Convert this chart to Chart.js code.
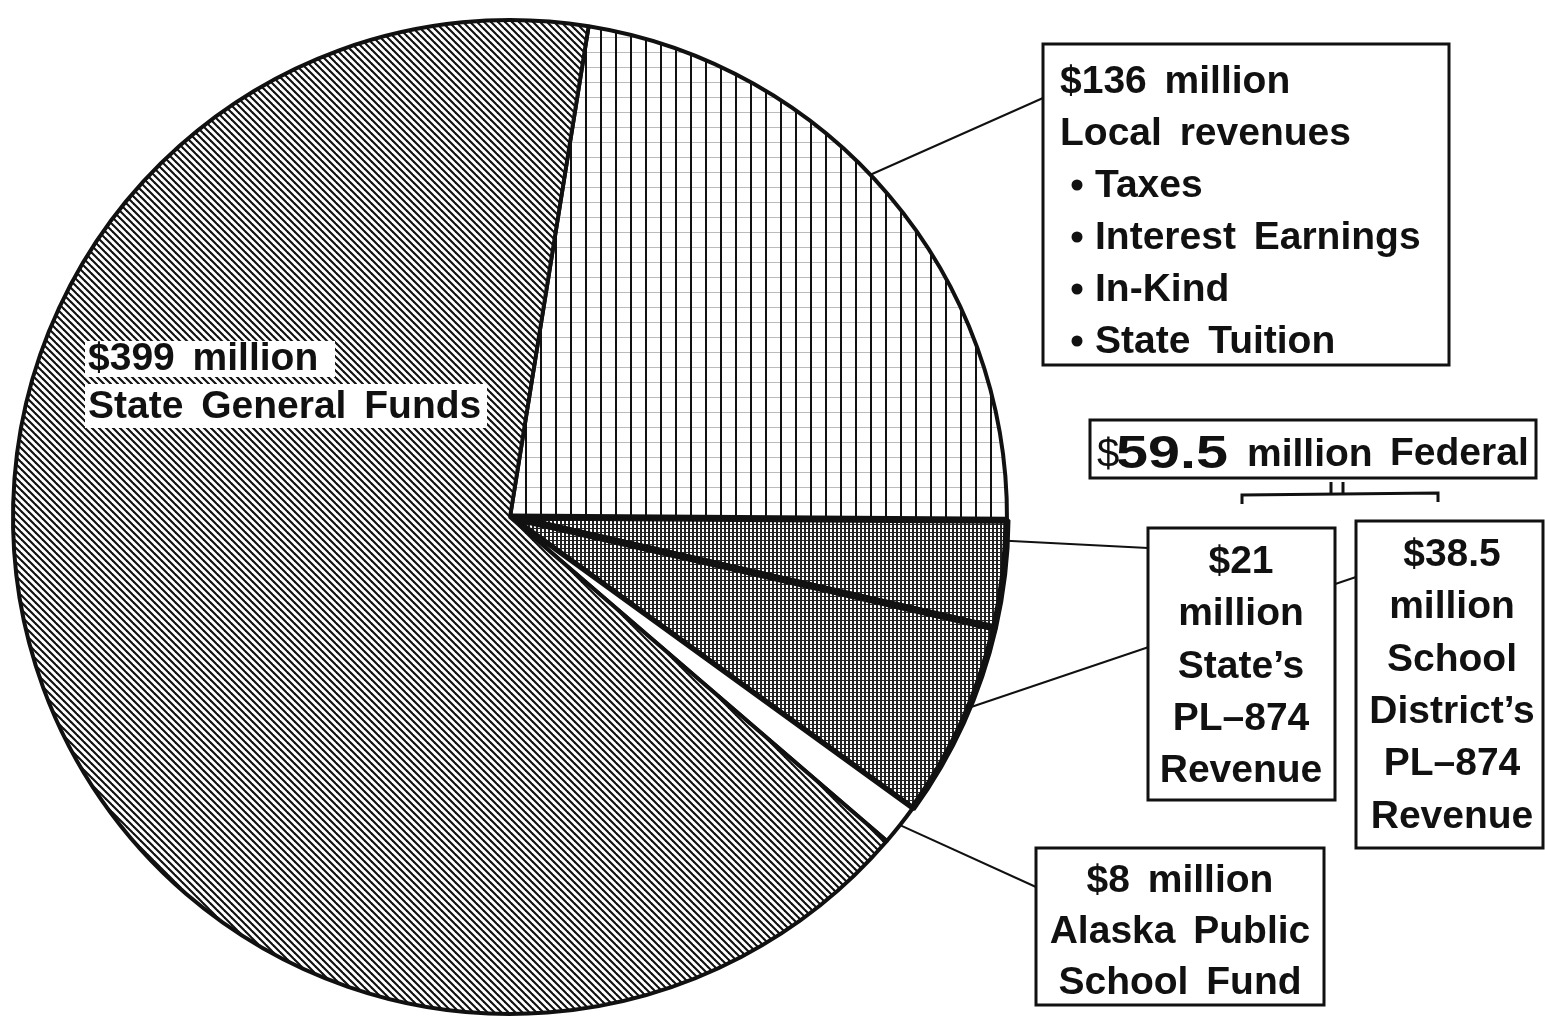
<!DOCTYPE html>
<html lang="en">
<head>
<meta charset="UTF-8">
<title>School revenue sources</title>
<script src="https://cdn.jsdelivr.net/npm/chart.js@4.4.0/dist/chart.umd.min.js"></script>
<style>
  html, body { margin: 0; padding: 0; background: #fff; }
  #wrap { position: relative; width: 1545px; height: 1026px; }
</style>
</head>
<body>
<div id="wrap"><canvas id="chart" width="1545" height="1026"></canvas></div>

<script>
// revenue sources, millions of dollars, clockwise from the top
const sources = ['Local revenues', "State's PL-874 Revenue", "School District's PL-874 Revenue", 'Alaska Public School Fund', 'State General Funds'];
const millions = [136, 21, 38.5, 8, 399];
const federalTotal = 59.5;

const generalLines = ['$399 million', 'State General Funds'];
const localLines = ['$136 million', 'Local revenues'];
const localItems = ['Taxes', 'Interest Earnings', 'In-Kind', 'State Tuition'];
const stateLines = ['$21', 'million', "State’s", 'PL–874', 'Revenue'];
const districtLines = ['$38.5', 'million', 'School', "District’s", 'PL–874', 'Revenue'];
const fundLines = ['$8 million', 'Alaska Public', 'School Fund'];

const INK = '#111';
const FONT = '"Liberation Sans", Arial, sans-serif';

function makePattern(size, draw) {
  const c = document.createElement('canvas');
  c.width = size; c.height = size;
  const g = c.getContext('2d');
  g.fillStyle = '#fff';
  g.fillRect(0, 0, size, size);
  draw(g, size);
  return g.createPattern(c, 'repeat');
}

// "\\\\" hatching for the general funds
const diagonal = makePattern(7, (g, s) => {
  g.strokeStyle = INK; g.lineWidth = 2.1;
  for (let k = -1; k <= 1; k++) {
    g.beginPath(); g.moveTo(-s, -s + k * s); g.lineTo(2 * s, 2 * s + k * s); g.stroke();
  }
});
// vertical rules with faint cross rules for local revenues
const ruled = makePattern(15, (g, s) => {
  g.fillStyle = '#bbb'; g.fillRect(0, 7, s, 1);
  g.fillStyle = INK; g.fillRect(0, 0, 2, s);
});
// dense screen for the federal part
const screen = makePattern(4, (g, s) => {
  g.fillStyle = '#222'; g.fillRect(0, 0, 2, s); g.fillRect(0, 0, s, 1);
});

function setFont(ctx, size, weight) {
  ctx.font = `${weight || 'bold'} ${size}px ${FONT}`;
}

function box(ctx, x, y, w, h) {
  ctx.fillStyle = '#fff';
  ctx.fillRect(x, y, w, h);
  ctx.lineWidth = 3;
  ctx.strokeStyle = INK;
  ctx.strokeRect(x, y, w, h);
}

function line(ctx, pts, width) {
  ctx.beginPath();
  ctx.moveTo(pts[0][0], pts[0][1]);
  for (let i = 1; i < pts.length; i++) ctx.lineTo(pts[i][0], pts[i][1]);
  ctx.lineWidth = width || 2;
  ctx.strokeStyle = INK;
  ctx.stroke();
}

function centredLines(ctx, lines, cx, y0, step) {
  ctx.textAlign = 'center';
  lines.forEach((t, i) => ctx.fillText(t, cx, y0 + i * step));
}

const annotations = {
  id: 'annotations',
  afterDatasetsDraw(chart) {
    const ctx = chart.ctx;
    const arcs = chart.getDatasetMeta(0).data;
    const edge = (i, f) => {
      const a = arcs[i];
      const t = a.startAngle + (a.endAngle - a.startAngle) * f;
      return [a.x + Math.cos(t) * a.outerRadius, a.y + Math.sin(t) * a.outerRadius];
    };

    ctx.save();
    ctx.textBaseline = 'alphabetic';
    ctx.wordSpacing = '7px';
    setFont(ctx, 39);

    // general funds label sits on white strips over the hatching
    ctx.fillStyle = '#fff';
    ctx.fillRect(85, 341, 250, 36);
    ctx.fillRect(85, 384, 402, 44);
    ctx.fillStyle = INK;
    ctx.textAlign = 'left';
    ctx.fillText(generalLines[0], 88, 370);
    ctx.fillText(generalLines[1], 88, 418);

    // leader lines
    line(ctx, [edge(0, 0.46), [1043, 98]]);
    line(ctx, [edge(1, 0.19), [1148, 548]]);
    line(ctx, [edge(2, 0.42), [1356, 577]]);
    line(ctx, [edge(3, 0.5), [1036, 887]]);

    // local revenues
    box(ctx, 1043, 44, 406, 321);
    ctx.fillStyle = INK;
    ctx.textAlign = 'left';
    ctx.fillText(localLines[0], 1060, 93);
    ctx.fillText(localLines[1], 1060, 145);
    localItems.forEach((t, i) => {
      const y = 197 + i * 52;
      ctx.beginPath(); ctx.arc(1077, y - 12, 5.5, 0, Math.PI * 2); ctx.fill();
      ctx.fillText(t, 1095, y);
    });

    // federal header and bracket
    box(ctx, 1090, 420, 446, 58);
    ctx.fillStyle = INK;
    ctx.textAlign = 'left';
    setFont(ctx, 40, 'normal');
    ctx.fillText('$', 1097, 467);
    setFont(ctx, 46);
    ctx.save();
    ctx.translate(1116, 468);
    ctx.scale(1.25, 1);
    ctx.fillText(String(federalTotal), 0, 0);
    ctx.restore();
    setFont(ctx, 39);
    ctx.fillText('million', 1247, 466);
    ctx.fillText('Federal', 1390, 465);
    line(ctx, [[1242, 504], [1242, 495], [1438, 493], [1438, 502]], 3);
    line(ctx, [[1331, 482], [1331, 494]], 3);
    line(ctx, [[1343, 482], [1343, 494]], 3);

    // state's and district's PL-874
    box(ctx, 1148, 528, 187, 272);
    ctx.fillStyle = INK;
    centredLines(ctx, stateLines, 1241, 573, 52.3);
    box(ctx, 1356, 521, 187, 327);
    ctx.fillStyle = INK;
    centredLines(ctx, districtLines, 1452, 566, 52.3);

    // public school fund
    box(ctx, 1036, 848, 288, 157);
    ctx.fillStyle = INK;
    centredLines(ctx, fundLines, 1180, 892, 51);

    ctx.restore();
  }
};

new Chart(document.getElementById('chart'), {
  type: 'pie',
  data: {
    labels: sources,
    datasets: [{
      data: millions,
      backgroundColor: [ruled, screen, screen, '#fff', diagonal],
      borderColor: INK,
      borderWidth: [4, 7, 7, 4, 4]
    }]
  },
  options: {
    responsive: false,
    animation: false,
    events: [],
    rotation: 9.1,
    radius: 497,
    layout: { padding: { left: 13, right: 538, top: 20, bottom: 12 } },
    plugins: { legend: { display: false }, tooltip: { enabled: false } }
  },
  plugins: [annotations]
});
</script>
</body>
</html>
